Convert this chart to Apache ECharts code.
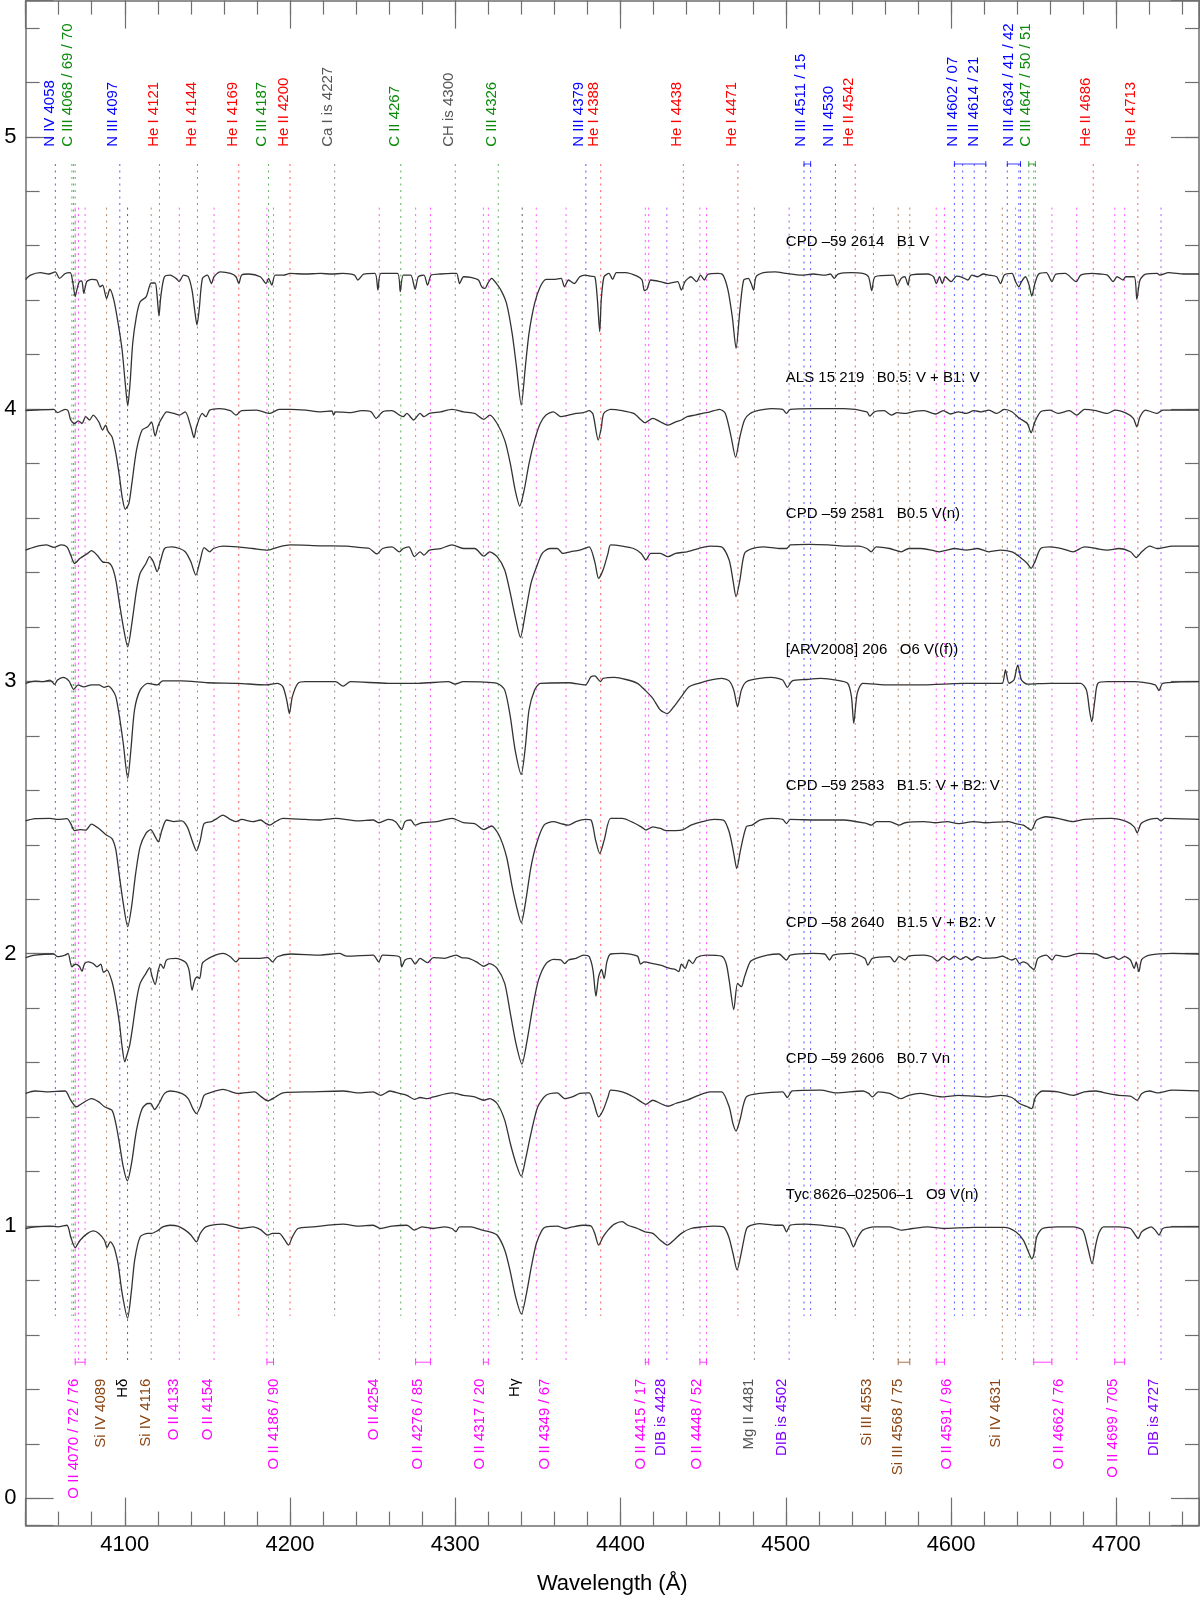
<!DOCTYPE html>
<html lang="en">
<head>
<meta charset="UTF-8">
<title>Spectra</title>
<script src="https://cdn.jsdelivr.net/npm/echarts@6/dist/echarts.min.js"></script>
<style>
  html, body { margin: 0; padding: 0; background: #fff; }
  #main { width: 1200px; height: 1601px; }
</style>
</head>
<body>
<div id="main"></div>
<script>
// vertical offsets of the normalised spectra, top to bottom
var offsets = [4.5, 4.0, 3.5, 3.0, 2.5, 2.0, 1.5, 1.0];
var starNames = [
  'CPD \u201359 2614   B1 V',
  'ALS 15 219   B0.5: V + B1: V',
  'CPD \u201359 2581   B0.5 V(n)',
  '[ARV2008] 206   O6 V((f))',
  'CPD \u201359 2583   B1.5: V + B2: V',
  'CPD \u201358 2640   B1.5 V + B2: V',
  'CPD \u201359 2606   B0.7 Vn',
  'Tyc 8626\u201302506\u20131   O9 V(n)'
];

// [wavelength, normalised flux]
var spec1 = [[4040,0.976],[4043,0.992],[4049,1.001],[4054,0.996],[4058,1.004],[4060.5,0.980],[4064,0.998],[4067,1.001],[4068.5,0.968],[4070,0.913],[4071,0.937],[4072.5,0.968],[4074,0.971],[4075.2,0.925],[4077,0.968],[4080,0.976],[4083,0.974],[4085,0.949],[4086.6,0.955],[4089,0.906],[4091,0.940],[4093.4,0.900],[4096,0.815],[4098.4,0.717],[4100.3,0.594],[4101.8,0.512],[4103.2,0.594],[4104.8,0.741],[4107,0.839],[4109.3,0.894],[4113,0.913],[4116,0.963],[4118.4,0.963],[4119.6,0.913],[4120.7,0.842],[4121.8,0.913],[4124,0.986],[4127.5,0.992],[4131,0.980],[4133,0.968],[4135.5,0.992],[4138.4,0.986],[4140.7,0.937],[4142.3,0.864],[4143.7,0.809],[4145,0.864],[4147,0.980],[4150,0.992],[4152.5,0.961],[4154,0.986],[4158,1.004],[4164,0.998],[4167.3,0.986],[4169,0.961],[4170.7,0.992],[4175,0.996],[4182,0.986],[4185.5,0.961],[4187,0.980],[4189,0.955],[4191,0.992],[4196,0.992],[4200,0.998],[4209,0.996],[4218.5,0.998],[4225,0.996],[4232,0.998],[4239,0.992],[4241,0.974],[4244.6,0.996],[4251.4,0.998],[4253.2,0.937],[4255,0.998],[4265,0.998],[4266.7,0.931],[4268.5,0.992],[4273,0.992],[4275.7,0.940],[4277.6,0.986],[4281,0.992],[4283.2,0.955],[4285.5,0.992],[4291,0.996],[4298,0.998],[4300.8,0.998],[4302.6,0.961],[4305,0.986],[4309.4,0.984],[4314,0.974],[4316,0.949],[4318,0.943],[4319.6,0.961],[4322,0.980],[4324,0.968],[4327.6,0.937],[4331,0.888],[4334.4,0.778],[4337,0.656],[4339.9,0.515],[4342.4,0.656],[4344.6,0.778],[4348,0.888],[4351.4,0.949],[4355,0.976],[4359.4,0.976],[4364,0.980],[4366,0.949],[4368.5,0.974],[4372,0.961],[4375.3,0.986],[4378.7,0.992],[4382,0.988],[4384.4,0.986],[4386,0.900],[4387.4,0.784],[4388.3,0.900],[4390,0.986],[4393,0.998],[4395.2,0.976],[4397.5,1.001],[4403,1.001],[4410,0.988],[4413,0.974],[4414.4,0.935],[4416,0.940],[4418.3,0.974],[4424,0.968],[4428.7,0.961],[4434.5,0.968],[4436.8,0.937],[4439,0.968],[4442.6,0.986],[4446,0.968],[4448.4,0.992],[4450.7,0.974],[4453,0.996],[4459,0.998],[4462,0.992],[4465,0.937],[4467.6,0.839],[4469.9,0.723],[4472.2,0.864],[4474.5,0.974],[4477.3,0.980],[4479,0.961],[4480.5,0.937],[4482,0.986],[4486.5,1.001],[4493.5,1.004],[4500.4,0.998],[4509.6,0.992],[4516.6,0.996],[4523.5,0.992],[4527,0.996],[4529.3,0.980],[4531.6,0.996],[4539.7,1.001],[4546.6,0.998],[4550,0.986],[4552,0.935],[4554,0.986],[4565,0.992],[4567.4,0.955],[4569.8,0.980],[4572,0.986],[4574,0.955],[4575.5,0.992],[4586,0.996],[4589.4,0.986],[4591,0.961],[4593,0.986],[4594.7,0.961],[4596.4,0.986],[4600,0.968],[4603.3,0.988],[4606.7,0.984],[4610.2,0.974],[4612.5,0.992],[4616,0.986],[4619.5,0.996],[4623,0.992],[4627.6,0.986],[4629.9,0.961],[4632.2,0.992],[4636.8,0.998],[4639,0.968],[4641,0.949],[4642.6,0.968],[4645,0.986],[4647.2,0.955],[4648.8,0.915],[4650.7,0.961],[4653,0.996],[4657.6,1.001],[4661,0.968],[4663.4,0.996],[4669,0.998],[4675.7,0.968],[4678.4,0.992],[4685.4,0.998],[4690,0.996],[4694.6,0.992],[4698,0.968],[4700.4,0.986],[4704,0.974],[4705.7,0.986],[4710.8,0.986],[4712.4,0.903],[4714.3,0.974],[4717.7,0.996],[4724.7,0.998],[4726.3,0.992],[4731.6,1.001],[4741,0.996],[4750,0.996]];

var spec2 = [[4040,0.994],[4045.7,0.996],[4057.1,0.999],[4059.3,0.987],[4063.9,0.999],[4065.7,0.994],[4067.3,0.960],[4069.6,0.947],[4071.8,0.957],[4074.1,0.947],[4076.4,0.972],[4078.7,0.960],[4080.9,0.978],[4084.3,0.953],[4086.6,0.923],[4088.4,0.941],[4090,0.917],[4092.3,0.898],[4094.6,0.837],[4096.8,0.752],[4098.4,0.678],[4100.3,0.632],[4102.5,0.654],[4104.3,0.727],[4107.1,0.849],[4110.5,0.923],[4113.9,0.935],[4116.2,0.953],[4118.4,0.901],[4120.3,0.941],[4123,0.972],[4125.3,0.990],[4129.8,0.984],[4133.2,0.978],[4136.6,0.990],[4140,0.935],[4141.9,0.895],[4143.4,0.935],[4146.9,0.984],[4149.1,0.972],[4151.4,0.996],[4157.1,1.002],[4163.9,0.994],[4167.3,0.978],[4170.7,0.994],[4179.8,0.996],[4187.8,0.984],[4193.4,0.999],[4200.3,0.999],[4209.4,0.996],[4218.5,0.990],[4225.3,0.993],[4226.4,0.978],[4227.6,0.990],[4236.6,0.987],[4243.5,0.994],[4249.1,0.990],[4252.1,0.966],[4256,0.990],[4261.7,0.994],[4266.2,0.978],[4268.5,0.972],[4270.7,0.984],[4274.8,0.960],[4278.7,0.984],[4281,0.972],[4284.4,0.984],[4291.2,0.990],[4298,0.999],[4304.9,0.990],[4311.7,0.984],[4317.3,0.962],[4320.8,0.978],[4325.3,0.947],[4329.9,0.886],[4333.3,0.800],[4336.2,0.703],[4339,0.644],[4341.7,0.703],[4344.6,0.800],[4348,0.886],[4351.4,0.947],[4354.9,0.978],[4359.4,0.990],[4363.9,0.972],[4368.5,0.978],[4373,0.984],[4377.6,0.987],[4381,0.994],[4383.3,0.982],[4386.5,0.886],[4388.3,0.930],[4389.8,0.984],[4394,0.999],[4401,0.994],[4407.9,0.984],[4412.5,0.960],[4414.8,0.950],[4419.5,0.966],[4424.1,0.953],[4428.7,0.941],[4433.3,0.953],[4436.8,0.960],[4440.3,0.972],[4444.9,0.978],[4449.5,0.984],[4454.2,0.990],[4459.9,0.999],[4463.4,0.984],[4466.9,0.898],[4469.6,0.823],[4472.2,0.898],[4475,0.960],[4478.4,0.984],[4484.2,0.996],[4491.1,1.002],[4498.1,0.999],[4500.4,0.984],[4502.7,0.999],[4516.6,1.002],[4535.1,1.002],[4549,0.990],[4550.8,0.974],[4553.6,0.990],[4559.4,0.994],[4564,0.978],[4567.4,0.987],[4572.1,0.984],[4576.7,0.990],[4583.6,0.994],[4590.6,0.982],[4595.2,0.994],[4599.8,0.982],[4604.4,0.990],[4609.1,0.984],[4613.7,0.994],[4618.3,0.990],[4622.9,0.996],[4627.6,0.984],[4632.2,0.999],[4636.8,0.990],[4641.4,0.966],[4646.1,0.947],[4648.4,0.913],[4650.7,0.953],[4654.2,0.990],[4659.9,0.996],[4664.6,0.984],[4671.5,0.994],[4676.1,0.978],[4680.7,0.999],[4687.7,0.994],[4694.6,0.984],[4699.2,0.996],[4706.2,0.984],[4710.3,0.966],[4712.4,0.935],[4714.3,0.972],[4717.7,0.996],[4724.7,0.984],[4728.1,0.996],[4750,0.996]];

var spec3 = [[4040,0.982],[4045.7,0.994],[4052.5,1.001],[4057.1,0.992],[4061.6,1.001],[4065,0.994],[4067.3,0.964],[4069.6,0.933],[4073,0.952],[4077.5,0.970],[4079.8,0.980],[4083.2,0.964],[4086.6,0.939],[4090,0.936],[4092.3,0.921],[4094.6,0.872],[4096.8,0.786],[4099.1,0.701],[4101.8,0.627],[4104.3,0.713],[4107.1,0.835],[4109.3,0.897],[4112.8,0.933],[4115,0.958],[4117.3,0.939],[4119.6,0.903],[4121.8,0.946],[4124.1,0.988],[4128.7,0.994],[4133.2,0.988],[4136.6,0.976],[4140,0.939],[4143,0.890],[4145.7,0.946],[4148,0.991],[4151.4,0.976],[4153.7,0.988],[4159.4,0.997],[4168.4,0.994],[4177.5,0.988],[4186.6,0.982],[4193.4,0.994],[4200.3,1.001],[4218.5,0.998],[4234.4,0.997],[4241.2,0.992],[4248,0.988],[4252.6,0.968],[4256,0.988],[4261.7,0.994],[4266.2,0.976],[4268.5,0.988],[4271.9,0.994],[4275.3,0.958],[4278.7,0.976],[4281,0.964],[4284.4,0.982],[4291.2,0.988],[4298,1.001],[4304.9,0.988],[4311.7,0.988],[4317.3,0.960],[4320.8,0.976],[4325.3,0.958],[4329.9,0.909],[4333.3,0.823],[4336.7,0.725],[4339.4,0.662],[4342.4,0.750],[4345.8,0.860],[4349.2,0.921],[4352.6,0.970],[4357.1,0.988],[4361.7,0.988],[4365.1,0.970],[4369.6,0.976],[4375.3,0.982],[4381,0.994],[4384.4,0.939],[4386.7,0.878],[4389.4,0.909],[4392.4,0.970],[4394,1.001],[4401,0.997],[4407.9,0.988],[4412.5,0.970],[4415.3,0.946],[4418.3,0.970],[4424.1,0.970],[4428.7,0.958],[4433.3,0.970],[4440.3,0.976],[4447.2,0.988],[4454.2,0.997],[4461.1,0.994],[4465.7,0.946],[4468,0.872],[4469.9,0.811],[4472.2,0.872],[4475,0.970],[4479.6,0.988],[4486.5,0.994],[4495.8,0.988],[4500.4,0.988],[4502.7,1.001],[4514.3,1.003],[4525.8,1.001],[4535.1,0.997],[4544.3,0.997],[4549,0.988],[4551.7,0.976],[4554.7,0.994],[4562.8,0.988],[4569.8,0.976],[4574.4,0.988],[4581.3,0.988],[4588.3,0.982],[4592.9,0.976],[4597.5,0.982],[4602.1,0.988],[4609.1,0.982],[4616,0.988],[4622.9,0.976],[4629.9,0.982],[4636.8,0.976],[4641.4,0.958],[4646.1,0.933],[4648.4,0.915],[4650.7,0.939],[4654.2,0.988],[4659.9,0.994],[4666.9,0.988],[4673.8,0.976],[4680.7,0.994],[4687.7,0.988],[4694.6,0.982],[4701.5,0.988],[4708.5,0.976],[4712,0.955],[4715.4,0.976],[4720.1,0.997],[4724.7,0.988],[4733.9,0.997],[4750,0.997]];

var spec4 = [[4040,0.993],[4045.7,1.001],[4050.2,0.999],[4054.8,1.005],[4057.5,0.989],[4059.3,1.005],[4062.7,1.015],[4066.2,1.002],[4069.1,0.971],[4071.8,0.987],[4075.2,0.980],[4079.8,0.987],[4084.3,0.987],[4087.7,0.978],[4090,0.983],[4092.3,0.971],[4094.6,0.944],[4096.8,0.870],[4099.1,0.772],[4101.8,0.644],[4103.7,0.748],[4105.9,0.895],[4109.3,0.968],[4113.9,0.993],[4119.6,0.987],[4123,1.002],[4134.3,1.002],[4150.3,0.995],[4168.4,0.993],[4185.5,0.987],[4192.3,0.993],[4195.7,0.980],[4198,0.931],[4199.6,0.882],[4201.4,0.944],[4204.8,0.993],[4209.4,0.999],[4227.5,0.999],[4232.1,0.983],[4236.6,0.999],[4259.4,0.993],[4277.6,0.993],[4295.8,0.999],[4299.8,0.990],[4304.9,0.999],[4325.3,0.993],[4329.9,0.968],[4333.3,0.870],[4336.2,0.748],[4339.9,0.659],[4342.4,0.760],[4344.6,0.895],[4348,0.968],[4351.4,0.993],[4368.5,0.995],[4378.7,0.987],[4382.1,1.017],[4384.4,1.020],[4387.8,0.999],[4389.4,1.011],[4396.4,1.015],[4403.3,1.007],[4410.2,0.993],[4414.8,0.968],[4419.5,0.938],[4424.1,0.895],[4428.3,0.882],[4432.2,0.907],[4436.8,0.944],[4441.4,0.980],[4447.2,0.993],[4454.2,1.005],[4461.1,1.011],[4465.7,1.002],[4468.5,0.968],[4470.8,0.907],[4473.1,0.968],[4476.1,0.999],[4484.2,1.011],[4491.1,1.015],[4498.1,1.005],[4500.9,0.978],[4503.9,1.002],[4512,1.007],[4521.2,1.011],[4530.5,1.005],[4537.4,0.993],[4539.7,0.944],[4541.1,0.846],[4543.2,0.956],[4546.6,0.993],[4562.8,0.987],[4583.6,0.987],[4606.8,0.993],[4627.6,0.993],[4631,0.993],[4632.9,1.042],[4635,0.993],[4638,1.005],[4640.3,1.060],[4642.6,1.005],[4646.1,0.990],[4659.9,0.993],[4678.4,0.993],[4681.9,0.968],[4683.7,0.895],[4685.1,0.852],[4687,0.931],[4688.8,0.993],[4694.6,0.999],[4710.8,0.999],[4723.5,0.987],[4725.8,0.966],[4728.1,0.993],[4750,0.999]];

var spec5 = [[4040,0.988],[4045.7,0.996],[4054.8,0.997],[4059.3,0.993],[4065,0.996],[4067.3,0.978],[4069.6,0.952],[4073,0.956],[4076.4,0.954],[4079.8,0.976],[4084.3,0.960],[4088.9,0.936],[4092.3,0.923],[4094.6,0.881],[4096.8,0.783],[4099.1,0.685],[4101.8,0.599],[4104.1,0.672],[4106.6,0.795],[4109.3,0.893],[4112.8,0.942],[4115.7,0.956],[4118.4,0.930],[4120.3,0.911],[4122.5,0.954],[4125.3,0.991],[4129.8,0.985],[4134.4,0.988],[4137.8,0.966],[4140.7,0.917],[4143.4,0.878],[4145.7,0.917],[4148,0.978],[4152.5,0.985],[4155.9,0.997],[4159.4,1.009],[4163.9,0.993],[4167.3,0.985],[4170.7,0.993],[4177.5,0.985],[4182.1,0.991],[4185.5,0.978],[4187.8,0.972],[4191.2,0.985],[4195.7,0.997],[4209.4,0.993],[4218.5,0.991],[4227.6,0.997],[4241.2,0.988],[4250.3,0.991],[4253.7,0.981],[4259.4,0.993],[4263.9,0.985],[4267.6,0.956],[4269.6,0.985],[4273,0.991],[4275.7,0.972],[4279.8,0.981],[4288.9,0.985],[4298,0.997],[4304.9,0.981],[4311.7,0.978],[4317.3,0.956],[4321.9,0.969],[4326.4,0.936],[4331,0.856],[4334.4,0.746],[4337.1,0.672],[4339.9,0.614],[4342.4,0.685],[4345.8,0.819],[4349.2,0.905],[4353.7,0.972],[4359.4,0.985],[4363.9,0.978],[4368.5,0.972],[4373,0.985],[4378.7,0.993],[4382.1,0.991],[4384.9,0.917],[4387.4,0.868],[4390.1,0.917],[4394,0.997],[4401,0.997],[4407.9,0.981],[4412.5,0.966],[4415.3,0.954],[4419.5,0.966],[4424.1,0.960],[4427.6,0.952],[4433.3,0.952],[4438,0.956],[4442.6,0.972],[4449.5,0.985],[4456.5,0.993],[4462.2,0.991],[4465.7,0.948],[4468.5,0.868],[4470.3,0.813],[4472.6,0.881],[4476.1,0.966],[4479.6,0.972],[4484.2,0.991],[4491.1,0.997],[4498.1,0.993],[4500.4,0.978],[4502.7,0.993],[4518.9,0.991],[4535.1,0.991],[4549,0.978],[4551.7,0.972],[4554.7,0.985],[4562.8,0.985],[4568.6,0.972],[4572.1,0.981],[4583.6,0.985],[4590.6,0.981],[4597.5,0.985],[4604.4,0.978],[4613.7,0.985],[4620.6,0.981],[4634.5,0.985],[4639.1,0.978],[4643.7,0.972],[4648.4,0.954],[4651.8,0.991],[4657.6,1.003],[4664.6,0.997],[4673.8,0.985],[4680.7,0.993],[4696.9,0.997],[4706.2,0.985],[4710.8,0.966],[4712.6,0.944],[4715,0.978],[4720.1,0.993],[4724.7,0.997],[4727,0.988],[4729.3,0.997],[4750,0.993]];

var spec6 = [[4040,0.986],[4045.7,0.995],[4057.1,0.999],[4059.3,0.989],[4063.9,0.995],[4065.7,1.001],[4068,0.952],[4070.2,0.962],[4072.5,0.954],[4074.1,0.936],[4075.7,0.964],[4078,0.970],[4080.9,0.964],[4083.2,0.952],[4085.5,0.962],[4087.1,0.932],[4089.3,0.940],[4092.3,0.897],[4094.6,0.830],[4096.8,0.744],[4098.4,0.658],[4100,0.603],[4101.6,0.634],[4103,0.664],[4104.8,0.732],[4107.1,0.830],[4109.3,0.891],[4112.8,0.928],[4115,0.949],[4116.6,0.915],[4118.4,0.887],[4120.3,0.940],[4121.8,0.962],[4123.4,0.946],[4125.3,0.977],[4130.9,0.983],[4136.6,0.970],[4138.9,0.940],[4140.7,0.866],[4142.3,0.903],[4143.9,0.915],[4145.3,0.909],[4146.9,0.964],[4149.1,0.977],[4154.8,0.995],[4159.4,1.001],[4163.9,0.989],[4167.3,0.970],[4169.6,0.983],[4182.1,0.983],[4186.6,0.986],[4189.4,0.970],[4192.3,0.989],[4200.3,0.999],[4218.5,0.995],[4229.8,1.001],[4234.4,0.991],[4250.3,0.995],[4253.7,0.970],[4256,0.995],[4266.2,0.989],[4267.6,0.952],[4269.6,0.977],[4273,0.983],[4275.7,0.962],[4278.7,0.983],[4283.2,0.967],[4286.7,0.986],[4293.5,0.983],[4300.3,0.995],[4303.7,0.986],[4308.2,0.983],[4312.8,0.970],[4317.3,0.954],[4320.8,0.964],[4325.3,0.946],[4329.9,0.891],[4333.3,0.781],[4336.7,0.671],[4340.3,0.595],[4343.5,0.683],[4346.9,0.805],[4350.3,0.903],[4354.9,0.964],[4359.4,0.979],[4363.9,0.977],[4366.2,0.964],[4368.5,0.977],[4373,0.983],[4377.6,0.995],[4381,0.989],[4383.3,0.940],[4385.1,0.844],[4386.7,0.915],[4388.5,0.942],[4390.1,0.909],[4391.7,0.970],[4394,0.999],[4401,1.001],[4410.2,0.991],[4412.1,0.962],[4414.4,0.970],[4419.5,0.964],[4424.1,0.958],[4429.9,0.946],[4433.3,0.942],[4435.2,0.934],[4436.8,0.962],[4439.1,0.946],[4441.4,0.977],[4443.7,0.964],[4446.1,0.986],[4451.8,0.995],[4461.1,0.991],[4463.9,0.964],[4465.7,0.903],[4468.5,0.795],[4470.8,0.891],[4473.1,0.879],[4475,0.915],[4478.4,0.970],[4481.9,0.983],[4488.8,0.995],[4495.8,0.999],[4500.4,0.977],[4502.7,0.995],[4516.6,1.001],[4523.5,0.999],[4526.5,0.977],[4528.6,0.995],[4539.7,1.001],[4547.8,0.983],[4549.6,0.958],[4552.4,0.983],[4562.8,0.989],[4565.8,0.970],[4568.6,0.989],[4572.1,0.977],[4574.4,0.991],[4583.6,0.995],[4588.3,0.989],[4591.7,0.973],[4595.2,0.989],[4598.7,0.977],[4602.1,0.991],[4605.6,0.979],[4609.1,0.989],[4612.5,0.977],[4616,0.989],[4619.5,0.983],[4627.6,0.986],[4631,0.991],[4634,0.983],[4636.8,0.977],[4639.1,0.983],[4641.4,0.964],[4643.7,0.970],[4646.1,0.964],[4647.9,0.952],[4650.2,0.942],[4652.5,0.983],[4657.6,0.995],[4661.1,0.977],[4663.4,0.995],[4669.2,0.989],[4677.3,1.001],[4687.7,0.999],[4693.5,0.983],[4698.1,0.989],[4701.5,0.979],[4705,0.989],[4708.5,0.977],[4710.8,0.946],[4712,0.970],[4713.6,0.934],[4715.4,0.979],[4720.1,0.995],[4733.9,1.001],[4750,0.999]];

var spec7 = [[4040,0.987],[4045.7,0.996],[4052.5,0.993],[4063.9,0.996],[4067.3,0.962],[4070.7,0.938],[4074.1,0.950],[4079.8,0.968],[4084.3,0.956],[4087.7,0.938],[4092.3,0.925],[4094.6,0.876],[4096.8,0.803],[4099.1,0.717],[4101.6,0.666],[4104.1,0.730],[4107.1,0.852],[4110.5,0.931],[4113.9,0.950],[4115.7,0.950],[4118,0.928],[4120.7,0.950],[4124.1,0.987],[4127.5,0.996],[4134.4,0.987],[4138.4,0.968],[4141.2,0.931],[4143.4,0.913],[4145.7,0.938],[4148,0.980],[4151.4,0.989],[4159.4,1.002],[4168.4,0.987],[4178.7,0.993],[4182.1,0.977],[4186.6,0.960],[4191.2,0.974],[4195.7,0.989],[4213.9,0.993],[4232.1,0.996],[4241.2,0.989],[4250.3,0.993],[4254.8,0.980],[4260.5,0.996],[4266.2,0.987],[4270.7,0.980],[4275.3,0.965],[4278.7,0.972],[4283.2,0.968],[4286.7,0.974],[4298,0.989],[4304.9,0.980],[4311.7,0.974],[4317.3,0.962],[4320.8,0.968],[4325.3,0.950],[4329.9,0.889],[4333.3,0.803],[4336.7,0.730],[4339.9,0.683],[4342.4,0.742],[4345.8,0.840],[4349.9,0.938],[4354.9,0.980],[4361.7,0.989],[4366.2,0.968],[4370.8,0.974],[4375.3,0.987],[4381,0.989],[4383.9,0.950],[4386.7,0.901],[4389.4,0.925],[4392.4,0.974],[4394,0.999],[4401,0.993],[4407.9,0.974],[4412.5,0.956],[4415.3,0.947],[4419.5,0.962],[4424.1,0.950],[4428.7,0.940],[4433.3,0.950],[4440.3,0.962],[4447.2,0.980],[4454.2,0.993],[4461.1,0.993],[4465.7,0.938],[4468,0.876],[4469.9,0.849],[4472.2,0.889],[4476.1,0.974],[4484.2,0.987],[4498.1,0.993],[4500.9,0.972],[4503.9,0.996],[4521.2,0.999],[4530.5,0.989],[4546.6,0.996],[4550.1,0.987],[4552.4,0.974],[4555.9,0.993],[4562.8,0.987],[4569.8,0.968],[4574.4,0.980],[4581.3,0.987],[4588.3,0.980],[4595.2,0.974],[4604.4,0.980],[4613.7,0.977],[4622.9,0.974],[4629.9,0.980],[4636.8,0.972],[4641.4,0.950],[4646.1,0.938],[4648.8,0.931],[4651.1,0.974],[4655.3,0.996],[4664.6,0.993],[4673.8,0.980],[4680.7,0.993],[4687.7,0.996],[4694.6,0.987],[4701.5,0.980],[4708.5,0.977],[4712.6,0.962],[4715.4,0.987],[4720.1,0.996],[4724.7,0.989],[4733.9,0.999],[4750,0.996]];

var spec8 = [[4040,0.991],[4045.7,0.997],[4054.8,1.000],[4059.3,0.997],[4065,1.003],[4067.3,0.960],[4070,0.921],[4073,0.948],[4077.5,0.973],[4080.9,0.982],[4084.3,0.973],[4087.7,0.948],[4089.3,0.921],[4091.2,0.942],[4093.4,0.924],[4094.6,0.899],[4096,0.860],[4098.5,0.750],[4101.7,0.662],[4104,0.760],[4106,0.875],[4109.3,0.960],[4113.9,0.973],[4116.2,0.973],[4119.6,0.982],[4123,0.997],[4127.5,1.003],[4132.1,1.000],[4136.6,0.985],[4140,0.967],[4143.4,0.942],[4145.7,0.973],[4149.1,0.997],[4159.4,1.007],[4170.7,0.991],[4177.5,0.997],[4182.1,0.987],[4186.6,0.967],[4189.4,0.973],[4193.4,0.973],[4196.9,0.948],[4199.1,0.930],[4201.4,0.960],[4204.8,0.991],[4213.9,0.997],[4232.1,1.007],[4241.2,1.000],[4250.3,1.003],[4254.8,0.991],[4261.7,1.000],[4270.7,1.003],[4275.3,0.985],[4279.8,0.997],[4286.7,0.991],[4293.5,0.997],[4298,0.991],[4300.3,0.979],[4302.6,0.997],[4309.4,0.997],[4316.2,0.985],[4320.8,0.979],[4325.3,0.967],[4329.9,0.912],[4333,0.840],[4336.5,0.740],[4340,0.677],[4343,0.750],[4346,0.850],[4349,0.935],[4352.5,0.985],[4354.9,0.997],[4361.7,1.000],[4366.2,0.991],[4370.8,0.997],[4377.6,1.003],[4382.1,1.000],[4384.4,0.973],[4386.7,0.930],[4389.4,0.960],[4392.4,0.985],[4396.3,1.007],[4401,1.016],[4404.4,1.003],[4410.2,0.991],[4414.8,0.979],[4419.5,0.973],[4424.1,0.948],[4428.3,0.930],[4432.2,0.948],[4436.8,0.973],[4442.6,0.991],[4449.5,0.997],[4456.5,1.000],[4462.2,0.997],[4465.5,0.960],[4468,0.900],[4470.5,0.839],[4473,0.900],[4475.5,0.975],[4477,0.997],[4484.2,1.009],[4493.5,1.003],[4498.1,1.003],[4500.4,0.979],[4502.7,1.003],[4512,1.007],[4525.8,1.000],[4535.1,0.991],[4538.5,0.960],[4540.9,0.924],[4543.2,0.954],[4546.6,0.985],[4553.6,0.997],[4562.8,0.997],[4569.8,0.985],[4576.7,0.991],[4585.9,0.997],[4595.2,0.991],[4613.7,0.995],[4632.2,0.995],[4639.1,0.979],[4643.7,0.948],[4647.2,0.899],[4648.8,0.880],[4650.2,0.900],[4651.8,0.960],[4655.3,0.991],[4664.6,0.997],[4673.8,0.997],[4679.6,0.985],[4682.6,0.924],[4685.3,0.862],[4687.5,0.930],[4689.5,0.975],[4692.3,0.997],[4701.5,0.997],[4708.5,0.991],[4710.8,0.973],[4713.1,0.954],[4715.4,0.979],[4721.2,0.997],[4723.5,0.985],[4725.8,0.967],[4728.1,0.991],[4733.9,0.997],[4750,0.997]];

var spectra = [spec1, spec2, spec3, spec4, spec5, spec6, spec7, spec8];

// line identifications (wavelengths, A)
var nLines = [4058, 4097, 4379, 4511, 4515, 4530, 4602, 4607, 4614, 4621, 4634, 4641, 4642];
var cLines = [4068, 4069, 4070, 4187, 4267, 4326, 4647, 4650, 4651];
var heLines = [4121, 4144, 4169, 4200, 4388, 4438, 4471, 4542, 4686, 4713];
var isLines = [4227, 4300];
var oLines = [4070, 4072, 4076, 4133, 4154, 4186, 4190, 4254, 4276, 4285, 4317, 4320, 4349, 4367, 4415, 4417, 4448, 4452, 4591, 4596, 4639, 4650, 4661, 4676, 4699, 4705];
var siLines = [4089, 4116, 4553, 4568, 4575, 4631];
var dibLines = [4428, 4502, 4727];
var mgLines = [4481];
var hLines = [4101.7, 4340.5];

var nBrackets = [[4511, 4515], [4602, 4621], [4634, 4642]];
var cBrackets = [[4647, 4651]];
var oBrackets = [[4070, 4076], [4186, 4190], [4276, 4285], [4317, 4320], [4415, 4417], [4448, 4452], [4591, 4596], [4650, 4661], [4699, 4705]];
var siBrackets = [[4568, 4575]];

// [text, label wavelength, species]
var topLabels = [
  ['N IV 4058', 4054.7, 'N'], ['C III 4068 / 69 / 70', 4065.8, 'C'], ['N III 4097', 4092.8, 'N'],
  ['He I 4121', 4117.6, 'He'], ['He I 4144', 4140.7, 'He'], ['He I 4169', 4165.5, 'He'],
  ['C III 4187', 4183.0, 'C'], ['He II 4200', 4196.3, 'He'], ['Ca I is 4227', 4222.9, 'IS'],
  ['C II 4267', 4263.2, 'C'], ['CH is 4300', 4296.4, 'IS'], ['C III 4326', 4322.2, 'C'],
  ['N III 4379', 4375.0, 'N'], ['He I 4388', 4384.1, 'He'], ['He I 4438', 4434.0, 'He'],
  ['He I 4471', 4467.6, 'He'], ['N III 4511 / 15', 4508.9, 'N'], ['N II 4530', 4526.0, 'N'],
  ['He II 4542', 4538.1, 'He'], ['N II 4602 / 07', 4601.0, 'N'], ['N II 4614 / 21', 4613.7, 'N'],
  ['N III 4634 / 41 / 42', 4635.2, 'N'], ['C III 4647 / 50 / 51', 4645.3, 'C'],
  ['He II 4686', 4681.7, 'He'], ['He I 4713', 4708.9, 'He']
];
var bottomLabels = [
  ['O II 4070 / 72 / 76', 4069.2, 'O'], ['Si IV 4089', 4085.6, 'Si'], ['H\u03b4', 4099.0, 'H'],
  ['Si IV 4116', 4112.7, 'Si'], ['O II 4133', 4129.8, 'O'], ['O II 4154', 4150.0, 'O'],
  ['O II 4186 / 90', 4190.3, 'O'], ['O II 4254', 4250.5, 'O'], ['O II 4276 / 85', 4277.3, 'O'],
  ['O II 4317 / 20', 4315.0, 'O'], ['H\u03b3', 4336.1, 'H'], ['O II 4349 / 67', 4354.3, 'O'],
  ['O II 4415 / 17', 4412.3, 'O'], ['DIB is 4428', 4424.4, 'DIB'], ['O II 4448 / 52', 4446.1, 'O'],
  ['Mg II 4481', 4477.7, 'Mg'], ['DIB is 4502', 4497.8, 'DIB'], ['Si III 4553', 4549.2, 'Si'],
  ['Si III 4568 / 75', 4567.7, 'Si'], ['O II 4591 / 96', 4597.2, 'O'], ['Si IV 4631', 4626.8, 'Si'],
  ['O II 4662 / 76', 4665.0, 'O'], ['O II 4699 / 705', 4697.8, 'O'], ['DIB is 4727', 4722.8, 'DIB']
];

var FONT = '"Liberation Sans", Arial, Helvetica, sans-serif';
var AX = '#6f6f6f';
var colors = { N: '#0000ff', C: '#0a8a0a', He: '#ff0000', IS: '#555555', O: '#ff00ff',
  Si: '#8b4513', DIB: '#8000ff', Mg: '#555555', H: '#000000' };

function markerSeries(waves, color, yTop, yBot) {
  return {
    type: 'custom', silent: true, z: 1,
    data: waves.map(function (w) { return [w, yTop, yBot]; }),
    encode: { x: 0, y: [1, 2] },
    renderItem: function (params, api) {
      var a = api.coord([api.value(0), api.value(1)]);
      var b = api.coord([api.value(0), api.value(2)]);
      return { type: 'line', shape: { x1: a[0], y1: a[1], x2: b[0], y2: b[1] },
        style: { stroke: color, lineWidth: 1, lineDash: [2, 4.5], opacity: 0.65 } };
    }
  };
}

function bracketSeries(pairs, color, y) {
  return {
    type: 'custom', silent: true, z: 1,
    data: pairs.map(function (p) { return [p[0], p[1], y]; }),
    encode: { x: [0, 1], y: 2 },
    renderItem: function (params, api) {
      var a = api.coord([api.value(0), api.value(2)]);
      var b = api.coord([api.value(1), api.value(2)]);
      var st = { stroke: color, lineWidth: 1, opacity: 0.75 };
      return { type: 'group', children: [
        { type: 'line', shape: { x1: a[0], y1: a[1], x2: b[0], y2: b[1] }, style: st },
        { type: 'line', shape: { x1: a[0], y1: a[1] - 3, x2: a[0], y2: a[1] + 3 }, style: st },
        { type: 'line', shape: { x1: b[0], y1: b[1] - 3, x2: b[0], y2: b[1] + 3 }, style: st }
      ] };
    }
  };
}

function labelSeries(items, yVal, align) {
  return {
    type: 'custom', silent: true, z: 3,
    data: items.map(function (it) { return [it[1], yVal]; }),
    encode: { x: 0, y: 1 },
    renderItem: function (params, api) {
      var p = api.coord([api.value(0), api.value(1)]);
      var it = items[params.dataIndex];
      return { type: 'text', x: p[0], y: p[1], rotation: Math.PI / 2,
        style: { text: it[0], fill: colors[it[2]], fontSize: 15, fontFamily: FONT,
          align: align, verticalAlign: 'middle' } };
    }
  };
}

function xAxisDef(position, major) {
  var ax = {
    type: 'value', position: position, min: 4040, max: 4750,
    axisLine: { show: !major, onZero: false, lineStyle: { color: AX, width: 1.5 } },
    axisTick: { show: true, inside: true, length: major ? 28 : 14, lineStyle: { color: AX, width: 1.2 } },
    axisLabel: { show: false },
    splitLine: { show: false }
  };
  if (major) { ax.splitNumber = 7; ax.minInterval = 100; ax.maxInterval = 100; }
  else { ax.interval = 20; }
  if (major && position === 'bottom') {
    ax.axisLabel = { show: true, margin: 8, fontSize: 22, color: '#000', fontFamily: FONT,
      formatter: function (v) { return (Math.abs(v % 100) < 1e-6) ? String(v) : ''; } };
    ax.name = 'Wavelength (\u00c5)';
    ax.nameLocation = 'middle';
    ax.nameGap = 47;
    ax.nameTextStyle = { fontSize: 22, color: '#000', fontFamily: FONT };
  }
  return ax;
}

function yAxisDef(position, major) {
  var ax = {
    type: 'value', position: position, min: -0.1, max: 5.5,
    axisLine: { show: !major, onZero: false, lineStyle: { color: AX, width: 1.5 } },
    axisTick: { show: true, inside: true, length: major ? 28 : 14, lineStyle: { color: AX, width: 1.2 } },
    axisLabel: { show: false },
    splitLine: { show: false }
  };
  if (major) { ax.splitNumber = 6; ax.minInterval = 1; ax.maxInterval = 1; }
  else { ax.splitNumber = 28; ax.minInterval = 0.2; ax.maxInterval = 0.2; }
  if (major && position === 'left') {
    ax.axisLabel = { show: true, margin: 9, fontSize: 22, color: '#000', fontFamily: FONT,
      formatter: function (v) {
        var r = Math.round(v);
        return (Math.abs(v - r) < 1e-6 && r >= 0 && r <= 5) ? String(r) : '';
      } };
  }
  return ax;
}

var series = [];
series.push(markerSeries(nLines, colors.N, 4.9, 0.67));
series.push(markerSeries(cLines, colors.C, 4.9, 0.67));
series.push(markerSeries(heLines, colors.He, 4.9, 0.67));
series.push(markerSeries(isLines, colors.IS, 4.9, 0.67));
series.push(markerSeries(oLines, colors.O, 4.74, 0.5));
series.push(markerSeries(siLines, colors.Si, 4.74, 0.5));
series.push(markerSeries(dibLines, colors.DIB, 4.74, 0.5));
series.push(markerSeries(mgLines, colors.Mg, 4.74, 0.5));
series.push(markerSeries(hLines, colors.H, 4.74, 0.5));
series.push(bracketSeries(nBrackets, colors.N, 4.9));
series.push(bracketSeries(cBrackets, colors.C, 4.9));
series.push(bracketSeries(oBrackets, colors.O, 0.5));
series.push(bracketSeries(siBrackets, colors.Si, 0.5));
series.push(labelSeries(topLabels, 4.963, 'left'));
series.push(labelSeries(bottomLabels, 0.44, 'right'));

spectra.forEach(function (sp, i) {
  series.push({
    type: 'line', silent: true, z: 2, showSymbol: false, symbol: 'none',
    smooth: 0.25,
    data: sp.map(function (p) { return [p[0], p[1] - 1 + offsets[i]]; }),
    lineStyle: { color: '#333333', width: 1.3 }
  });
});

// star names next to each spectrum
series.push({
  type: 'custom', silent: true, z: 3,
  data: offsets.map(function (o) { return [4500, o + 0.115]; }),
  encode: { x: 0, y: 1 },
  renderItem: function (params, api) {
    var p = api.coord([api.value(0), api.value(1)]);
    return { type: 'text', x: p[0], y: p[1],
      style: { text: starNames[params.dataIndex], fill: '#000', fontSize: 15, fontFamily: FONT,
        align: 'left', verticalAlign: 'middle' } };
  }
});

var chart = echarts.init(document.getElementById('main'));
chart.setOption({
  animation: false,
  backgroundColor: '#ffffff',
  grid: { left: 25.6, right: 1, top: 0.6, bottom: 75.4, containLabel: false, outerBoundsMode: 'none' },
  xAxis: [xAxisDef('bottom', false), xAxisDef('bottom', true), xAxisDef('top', false), xAxisDef('top', true)],
  yAxis: [yAxisDef('left', false), yAxisDef('left', true), yAxisDef('right', false), yAxisDef('right', true)],
  series: series
});
</script>
</body>
</html>
